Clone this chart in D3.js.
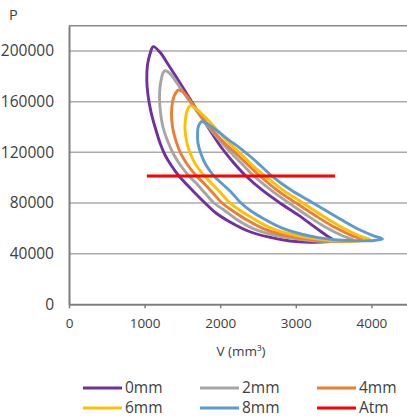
<!DOCTYPE html>
<html>
<head>
<meta charset="utf-8">
<script src="https://cdn.jsdelivr.net/npm/d3@7/dist/d3.min.js"></script>
<style>
  html, body { margin: 0; padding: 0; background: #fff; }
  svg { display: block; }
  text { font-family: "Open Sans", "DejaVu Sans", sans-serif; fill: #404040; }
</style>
</head>
<body>
<svg id="chart" width="407" height="418"></svg>
<script>
// ---- data ----
const seriesNames = ["0mm", "2mm", "4mm", "6mm", "8mm"];
const seriesColors = ["#7030A0", "#A5A5A5", "#ED7D31", "#FFC000", "#5B9BD5"];
const atmColor = "#FF0000";

// closed P-V loops, [V (mm^3), P] : top tip -> upper branch -> bottom tip -> lower branch
const loop0mm = [
  [1115,203500],[1204,199000],[1310,189600],[1429,178500],[1561,165900],[1693,153300],
  [1839,139800],[2011,124200],[2169,112400],[2341,101300],[2553,90300],[2791,80000],
  [3029,70600],[3267,60300],[3413,54000],[3499,50500],
  [3399,49300],[3188,49000],[2923,50000],[2632,53200],[2368,57900],[2130,65000],
  [1944,72100],[1799,80000],[1640,89500],[1455,101300],[1349,110000],[1270,117900],
  [1204,127400],[1138,140000],[1085,151800],[1045,165200],[1029,177000],[1038,188900],
  [1071,197600]
];
const loop2mm = [
  [1270,184400],[1336,182200],[1429,174700],[1548,164400],[1680,153400],[1825,141500],
  [1984,130100],[2143,119700],[2302,110000],[2447,101300],[2672,90200],[2910,80000],
  [3161,69700],[3413,60200],[3624,53900],[3757,50800],
  [3651,50000],[3452,49600],[3188,50400],[2923,52400],[2659,55500],[2421,60200],
  [2209,67400],[2050,74500],[1918,80000],[1786,88700],[1693,95000],[1587,101300],
  [1481,109200],[1389,117900],[1310,128200],[1243,140000],[1210,151800],[1197,162900],
  [1204,171600],[1224,178700],[1243,182600]
];
const loop4mm = [
  [1446,169200],[1508,167700],[1587,162100],[1693,153400],[1812,143900],[1931,135300],
  [2063,127000],[2209,119100],[2368,110000],[2526,101300],[2751,90200],[3003,80000],
  [3267,69700],[3532,60200],[3757,53900],[3889,50900],
  [3783,50000],[3585,49800],[3320,50600],[3056,52500],[2791,55500],[2553,60200],
  [2341,67000],[2169,73700],[2024,80000],[1892,88700],[1792,95000],[1687,101300],
  [1574,109600],[1481,118700],[1415,128900],[1369,140000],[1356,151000],[1369,159700],
  [1396,165200]
];
const loop6mm = [
  [1601,156600],[1667,155000],[1746,151000],[1852,144700],[1971,136800],[2103,128200],
  [2262,119500],[2421,110000],[2593,101300],[2831,90200],[3095,80000],[3360,69700],
  [3624,60200],[3849,53900],[3981,51200],
  [3876,50100],[3677,50000],[3413,50800],[3148,52700],[2897,55900],[2659,60600],
  [2447,67400],[2275,73700],[2130,80000],[1997,88700],[1892,95000],[1792,101300],
  [1680,110000],[1601,119500],[1554,128900],[1534,138400],[1541,146300],[1561,152700]
];
const loop8mm = [
  [1755,144200],[1812,143100],[1892,140000],[1997,135300],[2116,129700],[2262,123400],
  [2407,116300],[2540,109200],[2685,101300],[2937,90200],[3228,80000],[3519,69700],
  [3796,60200],[4021,54300],[4147,51600],
  [4034,50400],[3823,50100],[3558,50800],[3294,52700],[3042,55900],[2804,60600],
  [2593,67000],[2407,73700],[2275,80000],[2143,88700],[2030,95000],[1918,101300],
  [1812,110000],[1746,118700],[1706,127400],[1700,135300],[1713,140800]
];
const atmLine = [[1030,101325],[3520,101325]];

const xTicks = [0, 1000, 2000, 3000, 4000];
const yTicks = [0, 40000, 80000, 120000, 160000, 200000];
const xTitle = "V (mm³)";
const yTitle = "P";

// ---- chart ----
const svg = d3.select("#chart");
const x = d3.scaleLinear().domain([0, 4500]).range([69, 409.2]);
const y = d3.scaleLinear().domain([0, 220000]).range([304.3, 25.7]);

// gridlines
svg.append("g").selectAll("line").data(yTicks.filter(d => d > 0)).join("line")
  .attr("x1", x(0)).attr("x2", x(4500))
  .attr("y1", d => y(d)).attr("y2", d => y(d))
  .attr("stroke", "#ABABAB").attr("stroke-width", 1.5);

// top border
svg.append("line").attr("x1", x(0)).attr("x2", x(4500))
  .attr("y1", y(220000)).attr("y2", y(220000))
  .attr("stroke", "#8A8A8A").attr("stroke-width", 1.5);

// x axis
const xAxis = svg.append("g").attr("transform", `translate(0,${y(0)})`)
  .call(d3.axisBottom(x).tickValues(xTicks).tickSize(4).tickSizeOuter(0).tickPadding(10)
    .tickFormat(d3.format("d")));
xAxis.select(".domain").attr("stroke", "#7F7F7F").attr("stroke-width", 2);
xAxis.selectAll(".tick line").attr("stroke", "#7F7F7F").attr("stroke-width", 1.5);
xAxis.selectAll(".tick text").attr("font-size", 13.5).attr("fill", "#404040")
  .style("font-family", "'Open Sans', sans-serif");

// y axis
const yAxis = svg.append("g").attr("transform", `translate(${x(0)},0)`)
  .call(d3.axisLeft(y).tickValues(yTicks).tickSize(0).tickSizeOuter(0).tickPadding(15)
    .tickFormat(d3.format("d")));
yAxis.select(".domain").attr("stroke", "#7F7F7F").attr("stroke-width", 2);
yAxis.selectAll(".tick text").attr("font-size", 15.5).attr("fill", "#404040")
  .style("font-family", "'Open Sans', sans-serif");

// titles
svg.append("text").attr("x", 9).attr("y", 20).attr("font-size", 14.5).text(yTitle);
svg.append("text").attr("x", 241).attr("y", 356).attr("text-anchor", "middle")
  .attr("font-size", 13.5).text(xTitle);

// loops
const loops = [loop0mm, loop2mm, loop4mm, loop6mm, loop8mm];
const lineGen = d3.line().x(d => x(d[0])).y(d => y(d[1]))
  .curve(d3.curveCatmullRomClosed.alpha(0.5));
svg.append("g").selectAll("path").data(loops).join("path")
  .attr("d", d => lineGen(d))
  .attr("fill", "none")
  .attr("stroke", (d, i) => seriesColors[i])
  .attr("stroke-width", 2.9)
  .attr("stroke-linejoin", "round");

// atm
svg.append("path").attr("d", d3.line().x(d => x(d[0])).y(d => y(d[1]))(atmLine))
  .attr("fill", "none").attr("stroke", atmColor).attr("stroke-width", 3);

// legend
const legendItems = seriesNames.map((n, i) => ({name: n, color: seriesColors[i]}))
  .concat([{name: "Atm", color: atmColor}]);
const colX = [83, 200, 317];
const rowY = [388, 408];
const lg = svg.append("g").selectAll("g").data(legendItems).join("g")
  .attr("transform", (d, i) => `translate(${colX[i % 3]},${rowY[Math.floor(i / 3)]})`);
lg.append("line").attr("x1", 0).attr("x2", 39).attr("y1", 0).attr("y2", 0)
  .attr("stroke", d => d.color).attr("stroke-width", 3.2);
lg.append("text").attr("x", 42).attr("y", 0).attr("dy", "0.35em")
  .attr("font-size", 15.5).text(d => d.name);
</script>
</body>
</html>
